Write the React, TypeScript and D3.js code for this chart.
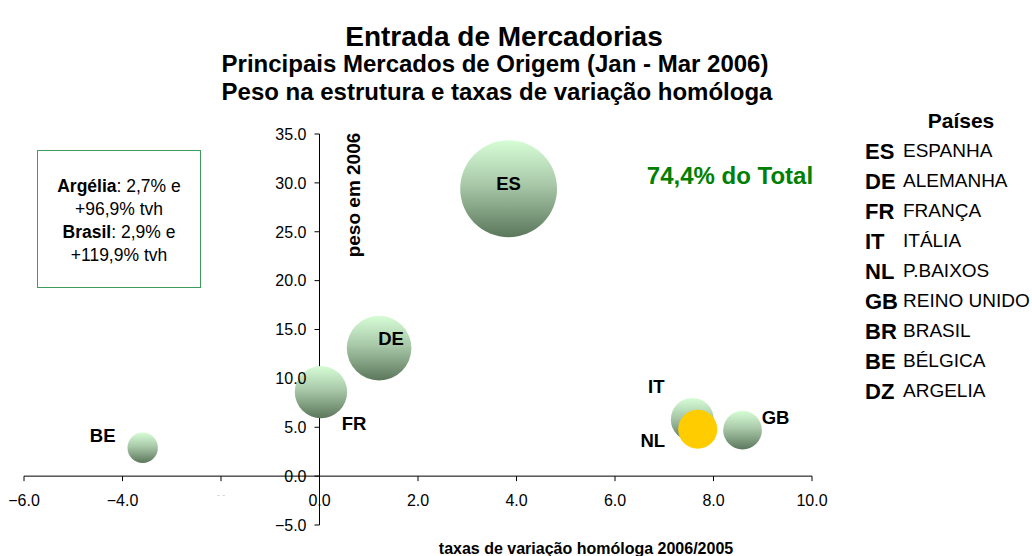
import React from "react";
import * as d3 from "d3";

// bubbles shown on the chart
const codes = ["ES", "DE", "FR", "IT", "NL", "GB", "BE"];
const taxas = [3.84, 1.21, 0.03, 7.57, 7.68, 8.59, -3.59];
const pesos = [29.4, 13.1, 8.6, 5.8, 4.8, 4.7, 2.9];

// legend
const legendCodes = ["ES", "DE", "FR", "IT", "NL", "GB", "BR", "BE", "DZ"];
const legendNames = ["ESPANHA", "ALEMANHA", "FRANÇA", "ITÁLIA", "P.BAIXOS", "REINO UNIDO", "BRASIL", "BÉLGICA", "ARGELIA"];

const xTicks = [-6, -4, -2, 0, 2, 4, 6, 8, 10];
const yTicks = [-5, 0, 5, 10, 15, 20, 25, 30, 35];

// label offsets from bubble centre (px)
const labelOffset: Record<string, [number, number]> = {
  ES: [0, -5],
  DE: [12, -10],
  FR: [33, 31],
  IT: [-36, -33],
  NL: [-45, 11],
  GB: [33, -13],
  BE: [-40, -12],
};

const W = 1032, H = 556;
const arial = "'Liberation Sans', Arial, sans-serif";

export default function App() {
  const x = d3.scaleLinear().domain([-6, 10]).range([24, 812]);
  const y = d3.scaleLinear().domain([-5, 35]).range([525, 134]);
  const r = d3.scaleSqrt().domain([0, 29.4]).range([0, 48.4]);
  const fmt = d3.format(".1f");

  return (
    <svg width={W} height={H} style={{ position: "absolute", left: 0, top: 0, background: "#fff" }}>
      <defs>
        <linearGradient id="bub" x1="0" y1="0" x2="0" y2="1">
          <stop offset="0%" stopColor="#d6fdd6" />
          <stop offset="45%" stopColor="#a9c9a9" />
          <stop offset="100%" stopColor="#5c775c" />
        </linearGradient>
      </defs>

      {/* titles */}
      <g fontFamily={arial} fontWeight="bold" textAnchor="middle" fill="#000">
        <text x={504} y={46} fontSize={28}>Entrada de Mercadorias</text>
        <text x={495} y={72} fontSize={24}>Principais Mercados de Origem (Jan - Mar 2006)</text>
        <text x={497} y={100} fontSize={24}>Peso na estrutura e taxas de variação homóloga</text>
      </g>

      {/* axis lines and ticks */}
      <line x1={x(0)} x2={x(0)} y1={y(-5)} y2={y(35)} stroke="#000" />
      {yTicks.map(t => (
        <line key={"yt" + t} x1={x(0) - 5} x2={x(0)} y1={y(t)} y2={y(t)} stroke="#000" />
      ))}
      <line x1={x(-6)} x2={x(10)} y1={y(0)} y2={y(0)} stroke="#000" />
      {xTicks.map(t => (
        <line key={"xt" + t} x1={x(t)} x2={x(t)} y1={y(0)} y2={y(0) + 5} stroke="#000" />
      ))}

      {/* bubbles */}
      {codes.map((c, i) => (
        <circle
          key={c}
          cx={x(taxas[i])}
          cy={y(pesos[i])}
          r={r(pesos[i])}
          fill={c === "NL" ? "#ffcc00" : "url(#bub)"}
        />
      ))}

      {/* tick labels */}
      {yTicks.map(t => (
        <text key={"yl" + t} x={x(0) - 13} y={y(t)} dy="0.36em" textAnchor="end" fontFamily={arial} fontSize={16} fill="#000">
          {fmt(t)}
        </text>
      ))}
      {xTicks.map(t =>
        t === -2 ? (
          <text key={"xl" + t} x={x(t)} y={498} textAnchor="middle" fontFamily={arial} fontSize={9} fill="#c8c8c8">- -</text>
        ) : (
          <text key={"xl" + t} x={x(t)} y={506} textAnchor="middle" fontFamily={arial} fontSize={16} fill="#000">
            {fmt(t)}
          </text>
        )
      )}

      {/* axis titles */}
      <text
        transform={`translate(360,195) rotate(-90)`}
        textAnchor="middle"
        fontFamily={arial}
        fontWeight="bold"
        fontSize={19}
      >
        peso em 2006
      </text>
      <text x={586} y={554} textAnchor="middle" fontFamily={arial} fontWeight="bold" fontSize={16}>
        taxas de variação homóloga 2006/2005
      </text>

      {/* bubble labels */}
      {codes.map((c, i) => {
        const [dx, dy] = labelOffset[c];
        return (
          <text
            key={"l" + c}
            x={x(taxas[i]) + dx}
            y={y(pesos[i]) + dy}
            dy="0.36em"
            textAnchor="middle"
            fontFamily={arial}
            fontWeight="bold"
            fontSize={18.5}
          >
            {c}
          </text>
        );
      })}

      {/* total */}
      <text x={730} y={184} textAnchor="middle" fontFamily={arial} fontWeight="bold" fontSize={24} fill="#008000">
        74,4% do Total
      </text>

      {/* note box */}
      <rect x={37.5} y={150.5} width={163} height={137} fill="#fff" stroke="#3c9c5c" />
      <g fontFamily={arial} fontSize={17.5} textAnchor="middle" fill="#000">
        <text x={119} y={192}>
          <tspan fontWeight="bold">Argélia</tspan>: 2,7% e
        </text>
        <text x={119} y={215}>+96,9% tvh</text>
        <text x={119} y={238}>
          <tspan fontWeight="bold">Brasil</tspan>: 2,9% e
        </text>
        <text x={119} y={261}>+119,9% tvh</text>
      </g>

      {/* legend */}
      <text x={961} y={128} textAnchor="middle" fontFamily={arial} fontWeight="bold" fontSize={21}>Países</text>
      {legendCodes.map((c, i) => (
        <g key={"lg" + c} fontFamily={arial}>
          <text x={865} y={158.5 + i * 30} fontWeight="bold" fontSize={22}>{c}</text>
          <text x={903} y={157 + i * 30} fontSize={19}>{legendNames[i]}</text>
        </g>
      ))}
    </svg>
  );
}
